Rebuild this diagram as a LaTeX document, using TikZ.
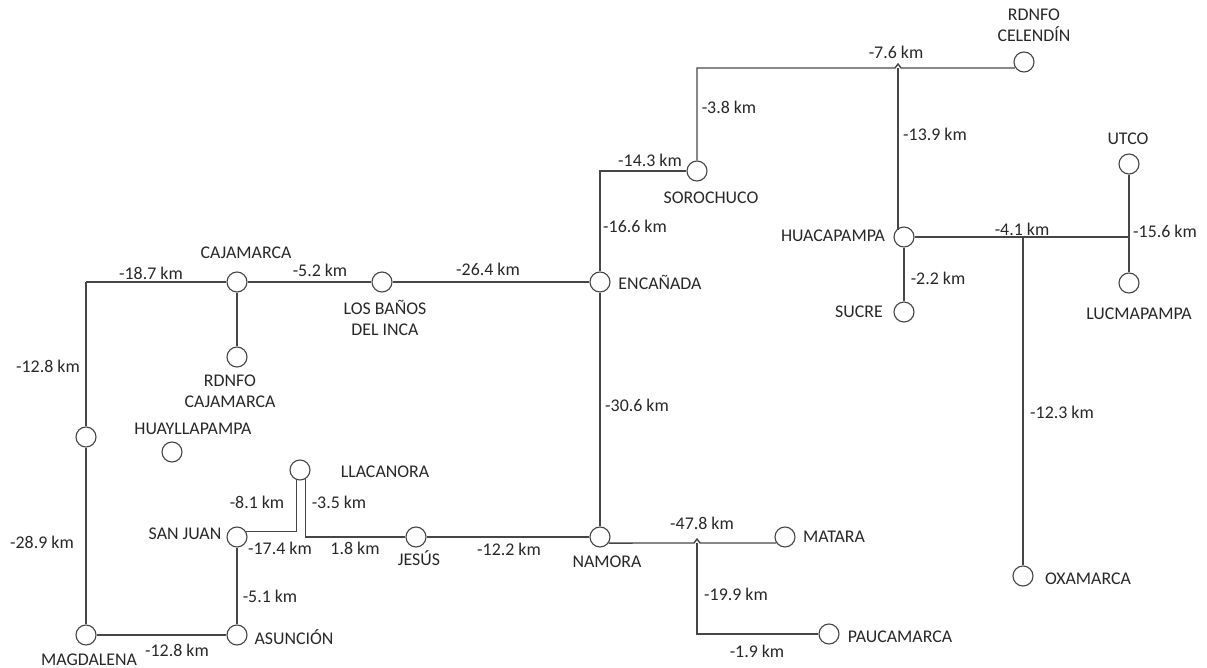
\documentclass[tikz,border=0pt]{standalone}
\usepackage{fontspec}
\setmainfont{Carlito}
\usetikzlibrary{positioning}
\definecolor{WireGray}{RGB}{70,70,70}
\definecolor{TextGray}{RGB}{40,40,40}

\begin{document}
\begin{tikzpicture}[x=0.025cm, y=-0.025cm,
    stn/.style={circle, draw=WireGray, fill=white, line width=0.8pt, minimum size=0.5cm, inner sep=0pt},
    wire/.style={draw=WireGray, line width=1pt},
    txt/.style={text=TextGray, font=\fontsize{12.7}{15}\selectfont, inner sep=0pt, align=center}]
    \useasboundingbox (0,0) rectangle (1207,668);

    % Stations
    \node[stn] (caj) at (237,282) {};
    \node[stn] (banos) at (382,282) {};
    \node[stn] (enc) at (600,282) {};
    \node[stn] (rcaj) at (237,357) {};
    \node[stn] (n437) at (86,437) {};
    \node[stn] (huay) at (172,452) {};
    \node[stn] (mag) at (86,635) {};
    \node[stn] (asu) at (237,635) {};
    \node[stn] (sj) at (237,537) {};
    \node[stn] (llac) at (300,470) {};
    \node[stn] (jes) at (416,537) {};
    \node[stn] (nam) at (600,537) {};
    \node[stn] (mat) at (785,537) {};
    \node[stn] (pauc) at (829,634) {};
    \node[stn] (soro) at (697,171) {};
    \node[stn] (cel) at (1024,62) {};
    \node[stn] (huaca) at (904,237) {};
    \node[stn] (sucre) at (904,312) {};
    \node[stn] (utco) at (1129,164) {};
    \node[stn] (lucma) at (1129,283) {};
    \node[stn] (oxa) at (1023,576) {};

    % Bends and junctions
    \coordinate (k0) at (86,282);
    \coordinate (c76) at (898,68);
    \coordinate (c76l) at (895,68);
    \coordinate (c76t) at (898,64);
    \coordinate (c76r) at (901,68);
    \coordinate (j41) at (1023,237);
    \coordinate (j156) at (1129,237);
    \coordinate (c47) at (697,543);
    \coordinate (c47l) at (694,543);
    \coordinate (c47t) at (697,539);
    \coordinate (c47r) at (700,543);

    % Roads
    \draw[wire] (k0) -- (caj) (caj) -- (banos) (banos) -- (enc);
    \draw[wire] (k0) -- (n437) (n437) -- (mag);
    \draw[wire] (mag) -- (asu) (asu) -- (sj) (caj) -- (rcaj);
    \draw[wire] (sj.30) -| (llac.252);
    \draw[wire] (llac.300) |- (jes);
    \draw[wire] (jes) -- (nam) (enc) -- (nam);
    \draw[wire] (enc) |- (soro);
    \draw[wire] (soro) |- (c76l) -- (c76t) -- (c76r) -- (c76r -| cel.210);
    \draw[wire] (c76) -- (c76 |- huaca.north west);
    \draw[wire] (huaca) -- (j156) (utco) -- (lucma) (huaca) -- (sucre) (j41) -- (oxa);
    \draw[wire] (nam.325) -- (c47l) -- (c47t) -- (c47r) -- (c47r -| mat.215);
    \draw[wire] (c47) |- (pauc);

    % Station names
    \node[txt] (cajName) at (246,253) {CAJAMARCA};
    \node[txt] (banosName) at (385,318) {LOS BAÑOS\\DEL INCA};
    \node[txt] (encName) at (660,282) {ENCAÑADA};
    \node[txt] (rcajName) at (230,391) {RDNFO\\CAJAMARCA};
    \node[txt] (huayName) at (193,429) {HUAYLLAPAMPA};
    \node[txt] (magName) at (89,660) {MAGDALENA};
    \node[txt] (asuName) at (294,637) {ASUNCIÓN};
    \node[txt] (sjName) at (185,534) {SAN JUAN};
    \node[txt] (llacName) at (385,472) {LLACANORA};
    \node[txt] (jesName) at (419,558) {JESÚS};
    \node[txt] (namName) at (607,562) {NAMORA};
    \node[txt] (matName) at (834,537) {MATARA};
    \node[txt] (paucName) at (900,637) {PAUCAMARCA};
    \node[txt] (soroName) at (711,198) {SOROCHUCO};
    \node[txt] (celName) at (1034,25) {RDNFO\\CELENDÍN};
    \node[txt] (huacaName) at (833,236) {HUACAPAMPA};
    \node[txt] (sucreName) at (859,312) {SUCRE};
    \node[txt] (utcoName) at (1128,139) {UTCO};
    \node[txt] (lucmaName) at (1139,314) {LUCMAPAMPA};
    \node[txt] (oxaName) at (1088,579) {OXAMARCA};

    % Distances
    \foreach \n/\x/\y/\t in {1/151/273/-18.7 km, 2/320/270/-5.2 km, 3/488/269/-26.4 km,
        4/48/366/-12.8 km, 5/42/542/-28.9 km, 6/177/650/-12.8 km, 7/270/596/-5.1 km,
        8/257/502/-8.1 km, 9/339/502/-3.5 km, 10/280/548/-17.4 km, 11/355/548/1.8 km,
        12/509/549/-12.2 km, 13/637/405/-30.6 km, 14/635/226/-16.6 km, 15/650/160/-14.3 km,
        16/729/107/-3.8 km, 17/896/52/-7.6 km, 18/935/134/-13.9 km, 19/1022/229/-4.1 km,
        20/1165/231/-15.6 km, 21/938/278/-2.2 km, 22/1062/412/-12.3 km,
        23/702/523/-47.8 km, 24/736/594/-19.9 km, 25/757/651/-1.9 km} {
      \node[txt] (d\n) at (\x,\y) {\t};
    }
\end{tikzpicture}
\end{document}
